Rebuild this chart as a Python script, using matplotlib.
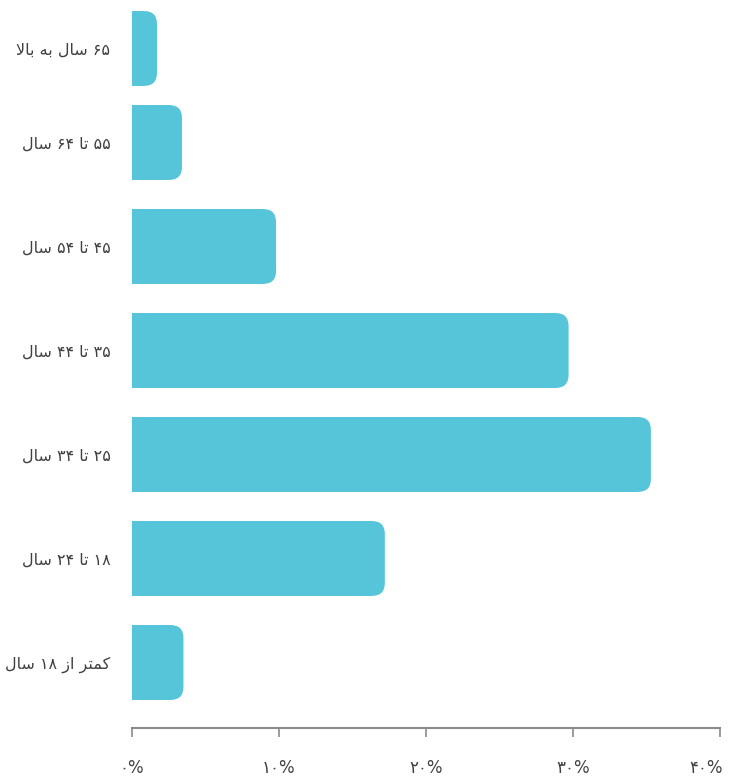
import numpy as np
import matplotlib
matplotlib.use("Agg")
import matplotlib.pyplot as plt
from matplotlib.patches import FancyBboxPatch
from matplotlib.transforms import ScaledTranslation

# ── Data ─────────────────────────────────────────────────────────────────
age_groups = [
    "۶۵ سال به بالا",
    "۵۵ تا ۶۴ سال",
    "۴۵ تا ۵۴ سال",
    "۳۵ تا ۴۴ سال",
    "۲۵ تا ۳۴ سال",
    "۱۸ تا ۲۴ سال",
    "کمتر از ۱۸ سال",
]
shares = [1.7, 3.4, 9.8, 29.7, 35.3, 17.2, 3.5]
x_ticks = [0, 10, 20, 30, 40]
x_tick_labels = ["۰%", "۱۰%", "۲۰%", "۳۰%", "۴۰%"]

# ── Palette ──────────────────────────────────────────────────────────────
BAR_COL = "#56c5d9"
TEXT_COL = "#404040"
AXIS_COL = "#8a8a8a"

# ── Minimal Persian shaping (matplotlib has no complex text layout) ──────
FORMS = {  # isolated, final, initial, medial
    "ا": ("\ufe8d", "\ufe8e", None, None),
    "ب": ("\ufe8f", "\ufe90", "\ufe91", "\ufe92"),
    "ت": ("\ufe95", "\ufe96", "\ufe97", "\ufe98"),
    "ر": ("\ufead", "\ufeae", None, None),
    "ز": ("\ufeaf", "\ufeb0", None, None),
    "س": ("\ufeb1", "\ufeb2", "\ufeb3", "\ufeb4"),
    "ل": ("\ufedd", "\ufede", "\ufedf", "\ufee0"),
    "م": ("\ufee1", "\ufee2", "\ufee3", "\ufee4"),
    "ه": ("\ufee9", "\ufeea", "\ufeeb", "\ufeec"),
    "ک": ("\ufb8e", "\ufb8f", "\ufb90", "\ufb91"),
    "لا": ("\ufefb", "\ufefc", None, None),
}


def shape_rtl(text):
    # split into units, merging lam + alef into one ligature unit
    units, i = [], 0
    while i < len(text):
        if text[i:i + 2] == "لا":
            units.append("لا")
            i += 2
        else:
            units.append(text[i])
            i += 1

    def dual(u):
        return u in FORMS and FORMS[u][2] is not None

    out = []
    for k, u in enumerate(units):
        if u not in FORMS:
            out.append(u)
            continue
        prev_j = k > 0 and dual(units[k - 1])
        next_j = dual(u) and k + 1 < len(units) and units[k + 1] in FORMS
        iso, fin, ini, med = FORMS[u]
        if prev_j and next_j:
            out.append(med)
        elif prev_j:
            out.append(fin)
        elif next_j:
            out.append(ini)
        else:
            out.append(iso)

    # visual order: reverse, but keep digit runs left-to-right
    vis = "".join(out)[::-1]
    res, run = [], ""
    for ch in vis:
        if ch.isdigit():
            run += ch
        else:
            res.append(run[::-1])
            run = ""
            res.append(ch)
    res.append(run[::-1])
    return "".join(res)


# ── Figure ───────────────────────────────────────────────────────────────
fig = plt.figure(figsize=(7.29, 7.79), dpi=100, facecolor="white")
ax = fig.add_axes([132 / 729, 51 / 779, 588 / 729, 728 / 779])

y_pos = np.arange(len(shares), dtype=float)
y_pos[0] += 0.096  # top bar sits a little lower in the original
bar_h = 0.72

bars = ax.barh(y_pos, shares, height=bar_h, color=BAR_COL, edgecolor="none")

# rounded right ends: replace each bar with a rounded patch + square left part
r_x = 0.88                      # corner radius in x data units
aspect = (13 / 104) / r_x       # y-units per x-unit for the corner
for bar in bars:
    x0, y0 = bar.get_x(), bar.get_y()
    w, h = bar.get_width(), bar.get_height()
    bar.set_width(max(w - r_x, 0))
    ax.add_patch(FancyBboxPatch(
        (x0, y0), w, h,
        boxstyle=f"round,pad=0,rounding_size={r_x}",
        mutation_aspect=aspect,
        facecolor=BAR_COL, edgecolor="none",
    ))

ax.set_xlim(0, 40)
ax.set_ylim(6.63, -0.37)

ax.set_yticks(y_pos)
ax.set_yticklabels([shape_rtl(s) for s in age_groups],
                   fontsize=11.5, color=TEXT_COL, family="DejaVu Sans")
ax.tick_params(axis="y", length=0, pad=15.5)

ax.set_xticks(x_ticks)
ax.set_xticklabels(x_tick_labels, fontsize=12, color=TEXT_COL)
ax.tick_params(axis="x", length=6.5, width=1.2, color=AXIS_COL, pad=16)

# keep the last tick label inside the figure
last = ax.get_xticklabels()[-1]
last.set_horizontalalignment("right")
last.set_transform(last.get_transform()
                   + ScaledTranslation(3 / 100, 0, fig.dpi_scale_trans))

for side in ("top", "right", "left"):
    ax.spines[side].set_visible(False)
ax.spines["bottom"].set_color(AXIS_COL)
ax.spines["bottom"].set_linewidth(1.5)

fig.savefig("out.png", dpi=100, facecolor="white")
